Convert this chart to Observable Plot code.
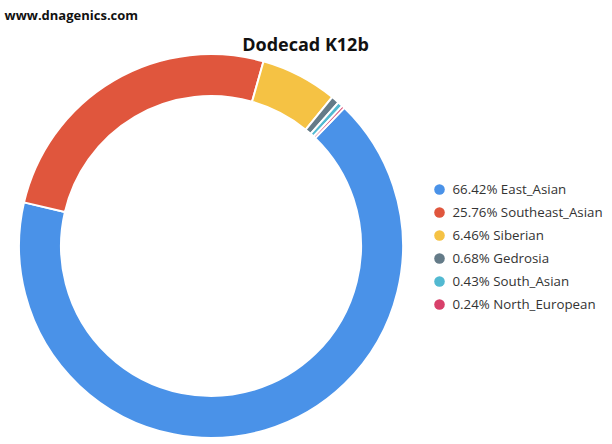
<!DOCTYPE html>
<html>
<head>
<meta charset="utf-8">
<script src="https://cdn.jsdelivr.net/npm/d3@7"></script>
<script src="https://cdn.jsdelivr.net/npm/@observablehq/plot@0.6"></script>
<style>
  html, body { margin: 0; padding: 0; background: #fff; }
  #chart { width: 612px; height: 444px; }
</style>
</head>
<body>
<div id="chart"></div>
<script>
// ---- data ----
const names = ["East_Asian", "Southeast_Asian", "Siberian", "Gedrosia", "South_Asian", "North_European"];
const values = [66.42, 25.76, 6.46, 0.68, 0.43, 0.24];
const colors = ["#4a92e8", "#e0563d", "#f5c244", "#647b88", "#52b9d1", "#d8406a"];
const title = "Dodecad K12b";
const watermark = "www.dnagenics.com";

const data = names.map((name, i) => ({name, value: values[i]}));

// ---- layout ----
const W = 612, H = 444;
const cx = 211, cy = 246, rOuter = 192, rInner = 150;
const startDeg = 44;

function donut(index, scales, vals, dims, context) {
  const pie = d3.pie().sort(null).value(d => d.value)
    .startAngle(startDeg * Math.PI / 180)
    .endAngle(startDeg * Math.PI / 180 + 2 * Math.PI);
  const arc = d3.arc().innerRadius(rInner).outerRadius(rOuter);
  const g = d3.create("svg:g").attr("transform", `translate(${cx},${cy})`);
  g.selectAll("path")
    .data(pie(data))
    .join("path")
    .attr("d", arc)
    .attr("fill", d => scales.color(d.data.name))
    .attr("stroke", "#fff")
    .attr("stroke-width", 2)
    .attr("stroke-linejoin", "round");
  return g.node();
}

const chart = Plot.plot({
  width: W,
  height: H,
  margin: 0,
  style: {fontFamily: "'Open Sans', 'DejaVu Sans', sans-serif", background: "#fff"},
  x: {axis: null, domain: [0, 1]},
  y: {type: "point", domain: names, range: [189, 304], padding: 0, axis: null},
  color: {domain: names, range: colors},
  marks: [
    donut,
    Plot.dot(data, {y: "name", fill: "name", r: 5.3, frameAnchor: "left", dx: 439}),
    Plot.text(data, {
      y: "name",
      text: d => `${d.value.toFixed(2)}% ${d.name}`,
      frameAnchor: "left", dx: 452, textAnchor: "start",
      fontSize: 13.3, fill: "#333"
    }),
    Plot.text([title], {
      text: d => d, frameAnchor: "top", dx: -1, dy: 38,
      fontSize: 18, fontWeight: "bold", fill: "#111"
    }),
    Plot.text([watermark], {
      text: d => d, frameAnchor: "top-left", dx: 4, dy: 10,
      textAnchor: "start", fontSize: 13, fontWeight: "bold", fill: "#111"
    })
  ]
});
document.getElementById("chart").appendChild(chart);
</script>
</body>
</html>
